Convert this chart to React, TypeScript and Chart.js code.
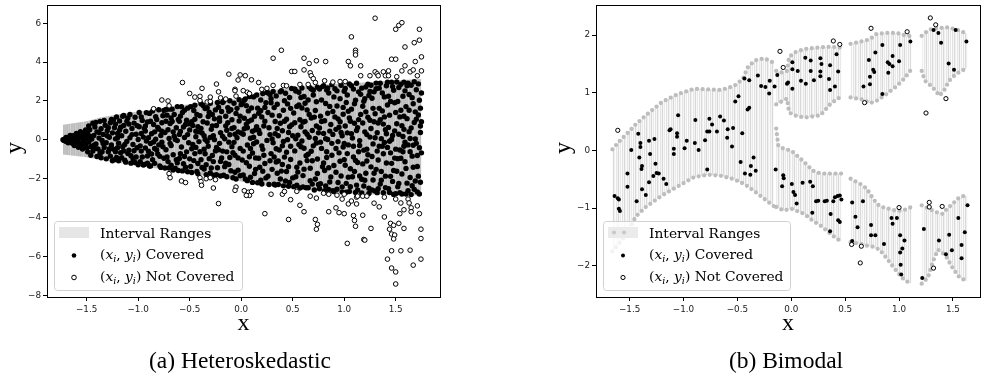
import React, { useEffect, useRef } from 'react';
import { Chart, registerables } from 'chart.js';

Chart.register(...registerables);

// ================= (a) Heteroskedastic =================
const heteroXTicks = [-1.5, -1.0, -0.5, 0.0, 0.5, 1.0, 1.5];
const heteroYTicks = [-8, -6, -4, -2, 0, 2, 4, 6];

const heteroBandX = [-1.73, -1.5, -1.37, -1.17, -0.95, -0.78, -0.49, -0.23, 0.0, 0.1, 0.21, 0.54, 0.86, 1.19, 1.51, 1.75];
const heteroBandHi = [0.78, 0.95, 1.15, 1.33, 1.5, 1.62, 1.85, 2.0, 2.12, 2.35, 2.5, 2.72, 2.86, 2.95, 3.07, 3.13];
const heteroBandLo = [-0.75, -0.9, -1.03, -1.2, -1.38, -1.5, -1.75, -1.92, -2.15, -2.25, -2.35, -2.52, -2.7, -2.8, -2.84, -2.87];

const heteroCovered: number[][] = [
  [-1.73,0.01],[-1.72,-0.03],[-1.71,0.05],[-1.70,-0.08],[-1.69,0.10],[-1.68,-0.02],[-1.67,0.14],[-1.66,-0.12],[-1.65,0.06],[-1.64,-0.18],[-1.63,0.21],[-1.62,-0.07],[-1.61,0.16],[-1.60,-0.25],[-1.59,0.02],[-1.58,0.29],[-1.57,-0.15],[-1.56,0.11],[-1.55,-0.33],[-1.54,0.24],[-1.53,-0.05],[-1.52,0.37],[-1.51,-0.22],[-1.50,0.08],[-1.50,-0.41],
  [-1.49,0.31],[-1.48,-0.12],[-1.47,0.52],[-1.46,-0.35],[-1.45,0.04],[-1.44,-0.58],[-1.43,0.22],[-1.42,0.66],[-1.41,-0.21],[-1.40,0.41],[-1.39,-0.47],[-1.38,0.09],[-1.37,-0.70],[-1.36,0.57],[-1.35,-0.03],[-1.34,0.28],[-1.33,-0.39],[-1.32,0.75],[-1.31,-0.15],[-1.30,0.47],[-1.29,-0.62],[-1.28,0.13],[-1.27,-0.84],[-1.27,0.88],[-1.26,-0.27],[-1.25,0.36],[-1.46,0.18],[-1.36,-0.92],
  [-1.24,-0.48],[-1.23,0.62],[-1.22,0.05],[-1.21,-0.91],[-1.20,0.33],[-1.19,-0.17],[-1.18,0.97],[-1.17,-0.66],[-1.16,0.21],[-1.15,-0.35],[-1.14,0.74],[-1.13,-1.05],[-1.12,0.44],[-1.11,-0.08],[-1.10,1.12],[-1.09,-0.53],[-1.08,0.11],[-1.07,-0.82],[-1.06,0.58],[-1.05,-0.24],[-1.04,0.86],[-1.03,-1.17],[-1.02,0.29],[-1.01,-0.41],[-1.00,0.02],[-1.22,-0.62],[-1.15,1.21],[-1.09,0.81],[-1.05,-0.98],[-1.18,0.49],
  [-0.99,0.67],[-0.98,-0.31],[-0.97,1.18],[-0.96,-0.88],[-0.95,0.14],[-0.94,-1.27],[-0.93,0.45],[-0.92,-0.06],[-0.91,0.92],[-0.90,-0.59],[-0.89,1.36],[-0.88,-0.19],[-0.87,0.31],[-0.86,-1.02],[-0.85,0.79],[-0.84,-0.44],[-0.83,0.03],[-0.82,1.05],[-0.81,-0.73],[-0.80,0.55],[-0.79,-1.34],[-0.78,0.22],[-0.77,-0.12],[-0.76,1.24],[-0.75,-0.95],[-0.97,-0.58],[-0.93,0.71],[-0.88,-1.35],[-0.84,0.41],[-0.80,-0.26],[-0.77,0.88],[-0.91,-0.83],
  [-0.74,0.38],[-0.73,-0.51],[-0.72,1.27],[-0.71,-1.12],[-0.70,0.07],[-0.69,0.84],[-0.68,-0.29],[-0.67,1.58],[-0.66,-0.77],[-0.65,0.19],[-0.64,-1.46],[-0.63,0.62],[-0.62,-0.04],[-0.61,1.05],[-0.60,-0.96],[-0.59,0.43],[-0.58,-0.37],[-0.57,1.41],[-0.56,-1.23],[-0.55,0.12],[-0.54,0.79],[-0.53,-0.62],[-0.52,1.63],[-0.51,-0.15],[-0.50,0.51],[-0.73,0.96],[-0.70,-1.45],[-0.66,0.41],[-0.62,-1.18],[-0.59,1.22],[-0.55,-0.86],[-0.52,0.27],[-0.68,1.12],[-0.60,0.95],
  [-0.49,-1.37],[-0.48,0.93],[-0.47,-0.24],[-0.46,1.51],[-0.45,-0.71],[-0.44,0.16],[-0.43,-1.63],[-0.42,0.68],[-0.41,-0.09],[-0.40,1.24],[-0.39,-1.02],[-0.38,0.35],[-0.37,1.77],[-0.36,-0.48],[-0.35,0.02],[-0.34,-1.28],[-0.33,0.87],[-0.32,-0.33],[-0.31,1.42],[-0.30,-1.71],[-0.29,0.54],[-0.28,-0.81],[-0.27,0.21],[-0.26,1.08],[-0.25,-0.57],[-0.48,-0.46],[-0.45,1.06],[-0.42,-1.22],[-0.39,0.59],[-0.36,-1.5],[-0.33,1.65],[-0.30,0.12],[-0.27,-1.12],[-0.44,0.44],[-0.35,-0.72],[-0.28,1.31],
  [-0.24,0.74],[-0.23,-1.44],[-0.22,1.68],[-0.21,-0.18],[-0.20,0.37],[-0.19,-0.93],[-0.18,1.92],[-0.17,-1.82],[-0.16,0.05],[-0.15,1.21],[-0.14,-0.62],[-0.13,0.88],[-0.12,-1.27],[-0.11,0.26],[-0.10,1.55],[-0.09,-0.35],[-0.08,-1.95],[-0.07,0.63],[-0.06,-0.79],[-0.05,1.36],[-0.04,0.11],[-0.03,-1.56],[-0.02,0.97],[-0.01,-0.44],[0.00,1.81],[-0.24,-0.39],[-0.21,1.13],[-0.18,-0.58],[-0.15,-1.2],[-0.12,1.47],[-0.09,0.58],[-0.06,-1.67],[-0.03,0.41],[-0.20,-1.11],[-0.14,0.49],[-0.07,-0.13],[-0.01,1.22],[-0.11,-0.91],
  [0.01,-1.04],[0.02,0.29],[0.03,2.04],[0.04,-2.01],[0.05,0.81],[0.06,-0.27],[0.07,1.49],[0.08,-1.36],[0.09,0.08],[0.10,1.02],[0.11,-0.68],[0.12,2.21],[0.13,-1.73],[0.14,0.52],[0.15,-0.11],[0.16,1.63],[0.17,-0.95],[0.18,0.33],[0.19,-2.08],[0.20,1.18],[0.21,-0.49],[0.22,0.71],[0.23,-1.22],[0.24,1.91],[0.25,-0.03],[0.02,-0.58],[0.05,1.76],[0.08,-0.87],[0.11,0.44],[0.14,-1.52],[0.17,1.37],[0.20,-0.31],[0.23,0.96],[0.03,1.11],[0.09,-1.93],[0.15,0.68],[0.21,-1.62],[0.12,-0.2],[0.06,0.62],[0.19,2.05],
  [0.26,-1.87],[0.27,0.62],[0.28,2.33],[0.29,-0.71],[0.30,1.27],[0.31,-0.15],[0.32,-2.29],[0.33,0.94],[0.34,-1.14],[0.35,1.83],[0.36,0.21],[0.37,-0.52],[0.38,2.47],[0.39,-1.61],[0.40,0.47],[0.41,1.52],[0.42,-0.89],[0.43,-2.12],[0.44,1.06],[0.45,0.01],[0.46,-1.38],[0.47,2.18],[0.48,-0.33],[0.49,0.77],[0.50,-1.96],[0.26,1.41],[0.28,-1.08],[0.30,0.05],[0.32,1.66],[0.34,-0.46],[0.36,-2.3],[0.38,0.85],[0.40,-1.27],[0.42,2.01],[0.44,-0.64],[0.46,0.38],[0.48,1.62],[0.29,2.12],[0.35,-1.72],[0.41,-0.08],[0.47,-2.2],[0.33,0.31],
  [0.51,1.38],[0.52,-0.57],[0.53,2.51],[0.54,-2.34],[0.55,0.24],[0.56,1.79],[0.57,-1.19],[0.58,0.67],[0.59,-0.06],[0.60,-1.84],[0.61,2.23],[0.62,0.95],[0.63,-0.82],[0.64,1.54],[0.65,-2.47],[0.66,0.13],[0.67,-1.46],[0.68,2.62],[0.69,0.48],[0.70,-0.31],[0.71,1.17],[0.72,-2.02],[0.73,1.96],[0.74,-0.99],[0.75,0.36],[0.52,0.88],[0.54,-1.41],[0.56,-0.24],[0.58,2.18],[0.60,-2.42],[0.62,0.41],[0.64,-1.07],[0.66,1.31],[0.68,-0.59],[0.70,2.31],[0.72,0.07],[0.74,-1.73],[0.53,-1.9],[0.57,1.03],[0.61,-0.43],[0.65,2.05],[0.69,-2.28],[0.73,0.71],[0.59,1.64],
  [0.76,-2.52],[0.77,1.22],[0.78,-0.44],[0.79,2.74],[0.80,0.33],[0.81,-1.58],[0.82,1.87],[0.83,-0.91],[0.84,0.02],[0.85,2.41],[0.86,-2.17],[0.87,0.79],[0.88,-0.18],[0.89,1.46],[0.90,-1.32],[0.91,2.63],[0.92,0.54],[0.93,-2.54],[0.94,1.08],[0.95,-0.67],[0.96,2.12],[0.97,-1.86],[0.98,0.21],[0.99,1.67],[1.00,-1.02],[0.76,0.61],[0.78,2.05],[0.80,-1.19],[0.82,-2.38],[0.84,1.37],[0.86,0.45],[0.88,-0.79],[0.90,2.21],[0.92,-1.67],[0.94,-0.09],[0.96,0.93],[0.98,-2.42],[1.00,2.5],[0.77,-0.12],[0.81,0.98],[0.85,-1.44],[0.89,-2.62],[0.93,1.74],[0.97,0.38],[0.99,-0.37],[0.83,2.56],
  [1.01,0.71],[1.02,-2.24],[1.03,2.31],[1.04,-0.26],[1.05,1.13],[1.06,-1.49],[1.07,2.79],[1.08,0.09],[1.09,-0.88],[1.10,1.86],[1.11,-2.71],[1.12,0.48],[1.13,-1.17],[1.14,2.47],[1.15,-0.04],[1.16,1.31],[1.17,-2.03],[1.18,0.87],[1.19,-0.53],[1.20,2.12],[1.21,-1.72],[1.22,0.27],[1.23,2.86],[1.24,-2.49],[1.25,1.01],[1.01,-1.31],[1.03,0.36],[1.05,-2.66],[1.07,1.58],[1.09,-0.33],[1.11,2.04],[1.13,0.63],[1.15,-1.86],[1.17,2.66],[1.19,-2.38],[1.21,1.44],[1.23,-0.77],[1.25,0.14],[1.02,1.92],[1.06,0.96],[1.10,-1.63],[1.14,-0.61],[1.18,1.73],[1.22,-1.09],[1.04,-1.92],[1.12,-2.33],[1.20,0.41],[1.24,2.28],
  [1.26,-1.39],[1.27,2.14],[1.28,-0.21],[1.29,0.93],[1.30,-2.63],[1.31,2.92],[1.32,0.37],[1.33,-1.04],[1.34,1.62],[1.35,-2.28],[1.36,0.06],[1.37,2.41],[1.38,-0.72],[1.39,1.18],[1.40,-1.87],[1.41,2.78],[1.42,-0.39],[1.43,0.64],[1.44,-2.71],[1.45,1.97],[1.46,-1.21],[1.47,0.22],[1.48,2.55],[1.49,-0.94],[1.50,1.41],[1.26,0.58],[1.28,-2.07],[1.30,1.34],[1.32,-0.58],[1.34,2.66],[1.36,-1.63],[1.38,0.81],[1.40,-2.46],[1.42,1.79],[1.44,-0.07],[1.46,2.97],[1.48,-1.58],[1.50,-2.77],[1.27,-0.86],[1.31,-1.52],[1.35,1.03],[1.39,-0.14],[1.43,2.24],[1.47,-2.14],[1.49,0.46],[1.29,2.47],[1.33,-2.52],[1.37,-0.33],[1.41,0.31],[1.45,-0.67],
  [1.51,0.83],[1.52,-2.41],[1.53,2.69],[1.54,-0.52],[1.55,1.52],[1.56,-1.76],[1.57,0.17],[1.58,2.97],[1.59,-1.13],[1.60,-2.79],[1.61,1.09],[1.62,-0.26],[1.63,2.33],[1.64,-1.94],[1.65,0.61],[1.66,-0.84],[1.67,1.86],[1.68,-2.55],[1.69,0.04],[1.70,2.58],[1.71,-1.37],[1.72,1.28],[1.73,-0.41],[1.74,-2.18],[1.75,0.93],[1.51,-1.62],[1.53,0.29],[1.55,-0.95],[1.57,2.24],[1.59,-0.12],[1.61,-2.23],[1.63,0.42],[1.65,2.81],[1.67,-1.41],[1.69,1.44],[1.71,-2.68],[1.73,2.04],[1.75,-0.67],[1.52,1.97],[1.56,0.73],[1.60,1.71],[1.64,-0.61],[1.68,0.89],[1.72,-1.87],[1.74,1.63],[1.54,-2.72],[1.58,-0.33],[1.62,2.92],[1.66,-2.36],[1.70,-0.18],[1.74,0.38],[1.58,1.21],
];

const heteroCoveredMore: number[][] = [
  [-1.70,0.12],[-1.68,-0.15],[-1.66,0.22],[-1.64,0.03],[-1.62,-0.29],[-1.60,0.33],[-1.58,-0.38],[-1.56,0.42],[-1.54,-0.47],[-1.52,0.12],[-1.51,0.51],[-1.55,-0.18],[-1.59,0.19],[-1.63,-0.11],
  [-1.49,-0.62],[-1.48,0.71],[-1.46,-0.79],[-1.44,0.85],[-1.43,-0.28],[-1.41,0.9],[-1.40,-0.86],[-1.38,0.38],[-1.37,0.95],[-1.35,-0.61],[-1.33,1.0],[-1.31,-0.98],[-1.30,0.21],[-1.29,0.62],[-1.28,-0.47],[-1.26,1.05],[-1.25,-1.08],[-1.47,0.02],[-1.42,-0.45],[-1.34,-0.19],
  [-1.24,1.02],[-1.23,-1.02],[-1.22,0.81],[-1.21,1.18],[-1.20,-0.41],[-1.19,-1.08],[-1.17,0.65],[-1.16,-0.92],[-1.14,1.25],[-1.13,-0.24],[-1.12,-1.15],[-1.11,0.96],[-1.10,-0.71],[-1.08,1.3],[-1.07,-1.2],[-1.06,0.27],[-1.04,-0.56],[-1.03,1.16],[-1.02,-0.88],[-1.01,0.73],[-1.00,-1.28],[-1.20,0.11],[-1.14,-0.57],
  [-0.99,1.41],[-0.98,-1.12],[-0.97,0.33],[-0.96,1.0],[-0.95,-1.3],[-0.94,0.58],[-0.93,-0.42],[-0.92,1.4],[-0.91,-1.2],[-0.90,0.11],[-0.89,-1.35],[-0.88,0.96],[-0.87,-0.73],[-0.86,1.48],[-0.85,-0.11],[-0.84,-1.21],[-0.83,1.19],[-0.82,-0.52],[-0.81,0.64],[-0.80,1.55],[-0.79,-0.85],[-0.78,-1.42],[-0.77,0.44],[-0.76,-0.36],[-0.75,1.51],
  [-0.74,-1.45],[-0.73,1.56],[-0.72,-0.88],[-0.71,0.52],[-0.70,1.58],[-0.69,-0.18],[-0.68,-1.31],[-0.67,0.94],[-0.66,-1.55],[-0.65,1.3],[-0.64,0.02],[-0.63,-1.02],[-0.62,1.71],[-0.61,-1.58],[-0.60,0.28],[-0.59,-0.72],[-0.58,1.7],[-0.57,-1.6],[-0.56,0.66],[-0.55,1.52],[-0.54,-1.41],[-0.53,1.01],[-0.52,-1.64],[-0.51,0.83],[-0.50,-0.98],
  [-0.49,1.71],[-0.48,-1.68],[-0.47,0.74],[-0.46,-1.07],[-0.45,1.78],[-0.44,-0.39],[-0.43,1.3],[-0.42,-1.75],[-0.41,0.41],[-0.40,-0.61],[-0.39,1.86],[-0.38,-1.42],[-0.37,0.93],[-0.36,0.21],[-0.35,1.61],[-0.34,-1.79],[-0.33,-0.08],[-0.32,1.2],[-0.31,-0.97],[-0.30,1.88],[-0.29,-1.45],[-0.28,0.72],[-0.27,-1.82],[-0.26,0.01],[-0.25,1.54],
  [-0.24,-1.8],[-0.23,1.92],[-0.22,-0.51],[-0.21,0.96],[-0.20,-1.86],[-0.19,1.46],[-0.18,0.18],[-0.17,1.99],[-0.16,-1.38],[-0.15,0.72],[-0.14,-1.9],[-0.13,1.66],[-0.12,-0.12],[-0.11,2.01],[-0.10,-1.59],[-0.09,1.03],[-0.08,-0.66],[-0.07,1.88],[-0.06,0.29],[-0.05,-2.02],[-0.04,1.62],[-0.03,-0.93],[-0.02,2.06],[-0.01,-1.85],[0.00,0.35],
  [0.01,1.87],[0.02,-1.81],[0.03,0.57],[0.04,2.11],[0.05,-1.18],[0.06,-2.1],[0.07,0.94],[0.08,2.23],[0.09,-0.45],[0.10,1.64],[0.11,-2.19],[0.12,0.13],[0.13,1.21],[0.14,-0.93],[0.15,2.31],[0.16,-2.21],[0.17,0.49],[0.18,-1.41],[0.19,1.5],[0.20,-2.27],[0.21,2.38],[0.22,-0.79],[0.23,1.67],[0.24,-1.96],[0.25,2.44],
  [0.26,2.42],[0.27,-2.3],[0.28,0.27],[0.29,1.91],[0.30,-1.52],[0.31,2.49],[0.32,-0.88],[0.33,-2.33],[0.34,2.26],[0.35,0.58],[0.36,-1.09],[0.37,1.24],[0.38,-2.02],[0.39,2.53],[0.40,-0.31],[0.41,-2.37],[0.42,0.96],[0.43,2.4],[0.44,-1.63],[0.45,1.85],[0.46,-2.39],[0.47,0.67],[0.48,-1.01],[0.49,2.64],[0.50,0.21],
  [0.51,-2.41],[0.52,2.62],[0.53,0.05],[0.54,1.72],[0.55,-1.66],[0.56,2.45],[0.57,-2.48],[0.58,-0.36],[0.59,2.67],[0.60,0.91],[0.61,-1.51],[0.62,1.88],[0.63,-2.47],[0.64,0.29],[0.65,-0.74],[0.66,2.72],[0.67,-2.11],[0.68,1.12],[0.69,-1.08],[0.70,2.55],[0.71,-2.58],[0.72,1.51],[0.73,-0.16],[0.74,2.71],[0.75,-2.3],
  [0.76,2.62],[0.77,-2.26],[0.78,0.94],[0.79,-1.38],[0.80,2.79],[0.81,-2.62],[0.82,0.06],[0.83,-0.61],[0.84,2.67],[0.85,-2.55],[0.86,1.72],[0.87,-1.91],[0.88,2.84],[0.89,0.28],[0.90,-2.66],[0.91,1.18],[0.92,-0.45],[0.93,2.52],[0.94,-2.2],[0.95,0.65],[0.96,-1.1],[0.97,2.81],[0.98,-2.68],[0.99,1.32],[1.00,-0.19],
  [1.01,2.64],[1.02,-2.7],[1.03,-0.71],[1.04,1.47],[1.05,2.88],[1.06,-2.41],[1.07,0.31],[1.08,-1.9],[1.09,2.61],[1.10,0.85],[1.11,-1.06],[1.12,2.91],[1.13,-2.58],[1.14,1.04],[1.15,-0.29],[1.16,2.34],[1.17,-2.73],[1.18,-1.24],[1.19,1.98],[1.20,-2.08],[1.21,2.72],[1.22,-0.48],[1.23,1.16],[1.24,-2.76],[1.25,2.49],
  [1.26,2.81],[1.27,-2.58],[1.28,1.62],[1.29,-1.72],[1.30,0.11],[1.31,2.63],[1.32,-2.72],[1.33,0.87],[1.34,-0.33],[1.35,2.91],[1.36,-2.08],[1.37,1.49],[1.38,-2.72],[1.39,2.21],[1.40,0.52],[1.41,-1.19],[1.42,2.97],[1.43,-2.51],[1.44,1.27],[1.45,-1.88],[1.46,0.02],[1.47,2.74],[1.48,-2.81],[1.49,1.91],[1.50,-0.48],
  [1.51,2.98],[1.52,-0.97],[1.53,-2.25],[1.54,1.18],[1.55,2.86],[1.56,-2.79],[1.57,-0.61],[1.58,0.54],[1.59,2.52],[1.60,-1.47],[1.61,2.78],[1.62,-2.62],[1.63,1.52],[1.64,0.07],[1.65,-2.82],[1.66,2.17],[1.67,-0.28],[1.68,2.99],[1.69,-2.12],[1.70,1.06],[1.71,-0.81],[1.72,2.88],[1.73,-2.79],[1.74,0.71],[1.75,2.41],
];

const heteroNotCovered: number[][] = [
  [-0.85,1.6],[-0.77,2.05],[-0.71,2.0],[-0.70,1.75],[-0.57,2.95],[-0.50,2.39],[-0.45,2.2],[-0.40,2.24],[-0.40,2.02],[-0.38,2.65],[-0.33,1.95],[-0.30,1.98],[-0.30,2.2],[-0.24,2.87],[-0.22,2.47],[-0.20,2.16],[-0.15,2.1],[-0.12,3.38],[-0.06,2.6],[-0.05,2.25],[-0.03,3.08],[-0.01,3.34],[0.04,3.3],[0.10,3.09],[0.17,2.95],[-0.06,2.53],[0.02,2.53],[0.06,2.45],[0.08,2.38],[0.20,2.6],[0.25,2.65],[0.31,4.2],[0.39,4.61],[0.31,2.8],[0.41,2.8],[0.44,2.78],[0.49,3.52],[0.52,3.52],[0.57,2.85],[0.65,2.85],[0.61,4.2],[0.66,3.93],[0.73,4.07],[0.61,3.6],[0.67,3.45],[0.68,3.3],[0.70,3.15],[0.72,2.95],[0.81,3.04],[0.82,4.03],[0.89,2.97],[0.96,3.0],[1.01,3.0],[1.04,4.03],[1.06,3.81],[1.07,5.3],[1.11,4.61],[1.11,4.49],[1.11,4.37],[1.16,3.81],[1.16,3.30],[1.25,3.3],[1.30,3.5],[1.32,3.4],[1.33,3.3],[1.38,3.5],[1.40,3.3],[1.43,3.55],[1.43,3.3],[1.51,3.25],[1.56,3.55],[1.30,6.26],[1.46,4.15],[1.50,4.15],[1.50,5.69],[1.53,5.89],[1.56,6.03],[1.59,3.81],[1.64,3.5],[1.67,3.6],[1.59,4.78],[1.69,4.03],[1.75,4.27],[1.68,5.0],[1.73,5.13],[1.73,5.69],[1.71,3.3],[1.75,3.55],
  [-0.70,-1.74],[-0.69,-1.95],[-0.58,-2.12],[-0.54,-2.2],[-0.40,-1.95],[-0.39,-2.15],[-0.385,-2.34],[-0.34,-2.0],[-0.30,-1.95],[-0.25,-2.05],[-0.27,-2.48],[-0.22,-3.28],[-0.05,-2.43],[0.07,-2.7],[0.08,-2.86],[-0.06,-2.6],[0.03,-2.62],[0.05,-2.86],[0.10,-2.66],[0.23,-3.8],[0.29,-2.8],[0.40,-2.8],[0.42,-2.66],[0.48,-3.08],[0.54,-2.65],[0.46,-4.1],[0.57,-3.37],[0.61,-3.7],[0.67,-2.9],[0.73,-3.0],[0.72,-4.1],[0.74,-4.35],[0.73,-4.6],[0.80,-2.75],[0.85,-2.8],[0.85,-3.7],[0.92,-3.5],[0.95,-3.75],[1.0,-3.8],[0.93,-2.85],[0.98,-3.05],[1.0,-2.8],[1.03,-5.33],[1.04,-3.3],[1.07,-3.15],[1.12,-3.3],[1.09,-3.9],[1.10,-4.15],[1.11,-4.45],[1.12,-2.95],[1.18,-3.88],[1.19,-5.13],[1.20,-5.16],[1.13,-2.9],[1.18,-2.9],[1.22,-2.9],[1.26,-4.56],[1.29,-3.26],[1.34,-3.45],[1.39,-2.95],[1.39,-3.97],[1.45,-4.3],[1.44,-4.6],[1.48,-4.4],[1.46,-4.85],[1.49,-4.9],[1.48,-5.1],[1.42,-6.14],[1.46,-6.6],[1.50,-6.8],[1.50,-7.42],[1.46,-5.71],[1.55,-5.71],[1.50,-3.05],[1.55,-3.25],[1.58,-3.6],[1.54,-3.8],[1.53,-4.3],[1.58,-4.56],[1.64,-5.68],[1.67,-6.45],[1.62,-3.05],[1.63,-3.25],[1.65,-3.5],[1.65,-3.7],[1.71,-3.4],[1.73,-3.8],[1.745,-4.6],[1.745,-5.08],[1.745,-6.14],
];

// ================= (b) Bimodal =================
const bimodalXTicks = [-1.5, -1.0, -0.5, 0.0, 0.5, 1.0, 1.5];
const bimodalYTicks = [-2, -1, 0, 1, 2];

// interval segments: [x, lower, upper]
const bimodalSegA: number[][] = [
  [-1.66,-1.75,0.02],[-1.6,-1.62,0.15],[-1.51,-1.40,0.32],[-1.445,-1.15,0.45],[-1.35,-0.98,0.61],[-1.2,-0.78,0.84],[-1.05,-0.62,0.98],[-0.9,-0.46,1.07],[-0.77,-0.42,1.06],[-0.65,-0.44,1.05],[-0.53,-0.50,1.12],[-0.45,-0.57,1.24],[-0.405,-0.62,1.44],[-0.34,-0.71,1.56],[-0.25,-0.84,1.60],[-0.16,-0.97,1.52],
];
const bimodalSegUpper1: number[][] = [
  [-0.14,0.80,1.38],[-0.08,0.86,1.35],[-0.04,0.90,1.38],[-0.02,0.66,1.62],[0.03,0.61,1.70],[0.12,0.57,1.76],[0.27,0.61,1.79],[0.365,0.81,1.80],[0.43,0.90,1.79],[0.47,0.93,1.78],
];
const bimodalSegLower1: number[][] = [
  [-0.14,-0.98,0.38],[-0.12,-1.0,0.08],[-0.07,-1.04,0.03],[0.0,-1.01,0.0],[0.12,-1.10,-0.20],[0.2,-1.22,-0.35],[0.27,-1.30,-0.40],[0.40,-1.50,-0.40],[0.47,-1.59,-0.40],
];
const bimodalSegUpper2: number[][] = [
  [0.55,0.92,1.85],[0.67,0.88,1.90],[0.73,0.82,1.93],[0.79,0.86,2.02],[0.885,0.98,2.04],[0.98,1.12,2.04],[1.05,1.25,2.0],[1.115,1.41,1.98],
];
const bimodalSegLower2: number[][] = [
  [0.55,-1.59,-0.49],[0.64,-1.62,-0.58],[0.70,-1.65,-0.66],[0.76,-1.67,-0.84],[0.82,-1.72,-0.97],[0.885,-1.87,-1.0],[0.98,-2.10,-1.05],[1.05,-2.25,-1.03],[1.115,-2.31,-0.98],
];
const bimodalSegUpper3: number[][] = [
  [1.21,1.38,1.99],[1.24,1.21,2.04],[1.31,1.10,2.12],[1.375,0.95,2.12],[1.42,1.05,2.14],[1.465,1.21,2.13],[1.53,1.33,2.10],[1.64,1.44,2.02],
];
const bimodalSegLower3: number[][] = [
  [1.21,-2.31,-0.95],[1.27,-2.2,-1.0],[1.31,-1.95,-1.04],[1.36,-1.72,-1.08],[1.405,-1.78,-1.10],[1.44,-1.85,-1.02],[1.50,-2.05,-0.92],[1.56,-2.2,-0.81],[1.64,-2.28,-0.77],
];

const bimodalCovered: number[][] = [
  [-1.485,0.01],[-1.42,0.29],[-1.40,0.13],[-1.40,0.06],[-1.32,0.17],[-1.27,0.20],[-1.13,0.35],[-1.12,0.37],[-1.06,0.24],[-1.06,0.30],[-1.05,0.61],[-1.09,0.03],[-0.97,0.17],[-0.99,0.04],[-0.895,0.13],[-0.89,0.53],[-0.86,0.01],[-0.80,0.18],[-0.78,0.33],[-0.76,0.33],[-0.76,0.55],[-0.735,0.45],[-0.69,0.33],[-0.66,0.59],[-0.625,0.52],[-0.59,0.37],[-0.54,0.39],[-0.595,0.22],[-0.55,0.07],[-0.455,0.30],[-0.52,0.85],[-0.49,0.94],[-0.405,0.71],[-0.39,0.74],[-0.435,1.25],[-0.39,1.22],[-0.31,1.30],[-0.28,1.12],[-0.24,1.10],[-0.20,1.21],[-0.205,0.99],[-0.155,1.11],[-0.13,1.31],[-0.04,1.16],
  [0.01,1.53],[0.01,1.41],[0.06,1.38],[-0.03,1.18],[0.01,1.07],[0.09,1.21],[0.135,1.16],[0.13,1.61],[0.18,1.56],[0.18,1.38],[0.27,1.60],[0.28,1.50],[0.27,1.37],[0.27,1.29],[0.21,1.22],[0.36,1.48],[0.35,1.24],[0.36,1.05],[0.405,1.11],[0.42,1.67],[0.435,1.37],
  [0.67,1.11],[0.73,1.15],[0.73,1.28],[0.72,1.57],[0.76,1.40],[0.77,1.36],[0.78,1.70],[0.845,1.83],[0.845,0.98],[0.895,1.53],[0.91,1.50],[0.94,1.64],[0.94,1.46],[0.90,1.35],[1.01,1.83],[1.00,1.55],[1.105,1.89],
  [1.32,2.09],[1.365,2.04],[1.39,1.87],[1.525,2.09],[1.625,1.89],[1.46,1.51],[1.51,1.40],
  [-1.31,-0.06],[-1.09,-0.06],[-1.41,-0.12],[-1.385,-0.27],[-1.39,-0.32],[-1.52,-0.40],[-1.52,-0.63],[-1.64,-0.79],[-1.61,-0.83],[-1.60,-0.85],[-1.60,-1.01],[-1.59,-1.05],[-1.435,-0.88],[-1.385,-0.67],[-1.35,-0.77],[-1.32,-0.55],[-1.26,-0.23],[-1.25,-0.39],[-1.28,-0.44],[-1.23,-0.40],[-1.185,-0.49],[-1.16,-0.58],[-0.78,-0.33],[-0.47,-0.20],[-0.43,-0.40],[-0.38,-0.42],[-0.375,-0.27],[-0.35,-0.12],[-0.33,-0.35],[-0.145,-0.33],[-0.075,-0.43],[-0.07,-0.48],[-0.085,-0.62],[0.02,-0.72],
  [0.005,-0.58],[0.035,-0.77],[0.05,-0.92],[0.105,-0.56],[0.175,-0.54],[0.20,-0.62],[0.195,-1.08],[0.23,-0.88],[0.25,-0.87],[0.31,-0.88],[0.33,-0.87],[0.365,-1.10],[0.39,-0.88],[0.405,-0.81],[0.43,-0.79],[0.45,-0.78],[0.465,-0.85],[0.435,-1.21],[0.45,-1.24],[0.36,-1.40],
  [0.565,-0.90],[0.665,-0.88],[0.595,-1.15],[0.615,-1.33],[0.565,-1.57],[0.74,-1.29],[0.74,-1.47],[0.78,-1.47],[0.86,-1.62],[0.93,-1.17],[0.98,-1.17],[0.94,-1.27],[1.01,-1.47],[1.05,-1.56],[1.03,-1.70],[1.01,-1.77],[1.015,-1.98],[1.02,-2.15],
  [1.23,-1.36],[1.215,-2.21],[1.37,-1.56],[1.435,-1.80],[1.465,-1.46],[1.49,-1.73],[1.55,-1.17],[1.58,-1.64],[1.58,-1.87],[1.61,-1.42],[1.635,-0.95],
];

const bimodalNotCovered: number[][] = [
  [-1.61,0.35],[-0.105,1.72],[-0.075,1.44],[0.39,1.90],[0.45,1.84],[0.74,2.12],[0.68,0.83],[1.075,2.06],[1.29,2.30],[1.34,2.18],[1.435,0.90],[1.25,0.65],
  [0.56,-1.63],[0.65,-1.66],[0.64,-1.95],[1.00,-0.99],[1.28,-0.90],[1.28,-0.98],[1.40,-0.97],[1.32,-2.04],
];

// ================= helpers =================
const fmt1 = (v: number) => (v < 0 ? '\u2212' : '') + Math.abs(v).toFixed(1);
const fmt0 = (v: number) => (v < 0 ? '\u2212' : '') + Math.abs(v).toFixed(0);
const pts = (arr: number[][]) => arr.map(([x, y]) => ({ x, y }));

function stripePattern(ctx: CanvasRenderingContext2D, cols: string[]) {
  const c = document.createElement('canvas');
  c.width = cols.length;
  c.height = 4;
  const g = c.getContext('2d')!;
  cols.forEach((col, i) => {
    g.fillStyle = col;
    g.fillRect(i, 0, 1, 4);
  });
  return ctx.createPattern(c, 'repeat');
}

function roundRectPath(ctx: CanvasRenderingContext2D, x: number, y: number, w: number, h: number, r: number) {
  ctx.beginPath();
  ctx.moveTo(x + r, y);
  ctx.lineTo(x + w - r, y);
  ctx.arcTo(x + w, y, x + w, y + r, r);
  ctx.lineTo(x + w, y + h - r);
  ctx.arcTo(x + w, y + h, x + w - r, y + h, r);
  ctx.lineTo(x + r, y + h);
  ctx.arcTo(x, y + h, x, y + h - r, r);
  ctx.lineTo(x, y + r);
  ctx.arcTo(x, y, x + r, y, r);
  ctx.closePath();
}

const LEGEND_FS = 13.8;

function drawMathLabel(ctx: CanvasRenderingContext2D, x: number, baseline: number, label: string) {
  const fs = LEGEND_FS;
  const normal = `${fs}px "DejaVu Serif"`;
  const ital = `italic ${fs}px "DejaVu Serif"`;
  const sub = `italic ${fs * 0.7}px "DejaVu Serif"`;
  const parts: [string, string, number][] = [
    ['(', normal, 0], ['x', ital, 0], ['i', sub, 3], [', ', normal, 0], ['y', ital, 0], ['i', sub, 3], [')', normal, 0], [' ' + label, normal, 0],
  ];
  let cx = x;
  for (const [t, f, dy] of parts) {
    ctx.font = f;
    ctx.fillText(t, cx, baseline + dy);
    cx += ctx.measureText(t).width;
  }
}

const decorPlugin = {
  id: 'decor',
  afterDraw(chart: any, _args: any, o: any) {
    const { ctx, chartArea: a } = chart;
    ctx.save();
    // frame
    ctx.strokeStyle = '#000';
    ctx.lineWidth = 1;
    ctx.strokeRect(Math.round(a.left) + 0.5, Math.round(a.top) + 0.5, Math.round(a.right - a.left), Math.round(a.bottom - a.top));
    // axis titles
    ctx.fillStyle = '#000';
    ctx.textAlign = 'center';
    ctx.textBaseline = 'alphabetic';
    ctx.font = `${o.axisFont}px "Liberation Serif"`;
    ctx.fillText('x', (a.left + a.right) / 2, o.xTitleBaseline);
    ctx.save();
    ctx.translate(o.yTitleX, o.yTitleY);
    ctx.rotate(-Math.PI / 2);
    ctx.fillText('y', 0, 0);
    ctx.restore();
    // caption
    ctx.font = `${o.captionFont}px "Liberation Serif"`;
    ctx.fillText(o.caption, o.captionX, o.captionBaseline);
    // legend
    const lx = o.lx, ly = o.ly, lw = o.lw, lh = o.lh;
    roundRectPath(ctx, lx + 0.5, ly + 0.5, lw, lh, 3);
    ctx.fillStyle = 'rgba(255,255,255,0.8)';
    ctx.fill();
    ctx.strokeStyle = '#d2d2d2';
    ctx.lineWidth = 1;
    ctx.stroke();
    // interval patch
    ctx.fillStyle = o.patchColor;
    ctx.fillRect(lx + 5, ly + 6, 30, 11);
    if (o.patchDots) {
      ctx.fillStyle = '#c9c9c9';
      for (const dx of [11, 21]) {
        ctx.beginPath();
        ctx.arc(lx + dx, ly + 11.5, 2.1, 0, Math.PI * 2);
        ctx.fill();
      }
    }
    // markers
    ctx.fillStyle = '#000';
    ctx.beginPath();
    ctx.arc(lx + 20, ly + 34.5, o.dotR, 0, Math.PI * 2);
    ctx.fill();
    ctx.beginPath();
    ctx.arc(lx + 20, ly + 56.5, o.ringR, 0, Math.PI * 2);
    ctx.fillStyle = '#fff';
    ctx.fill();
    ctx.strokeStyle = '#000';
    ctx.lineWidth = 1;
    ctx.stroke();
    // texts
    ctx.fillStyle = '#000';
    ctx.textAlign = 'left';
    ctx.font = `${LEGEND_FS}px "DejaVu Serif"`;
    ctx.fillText('Interval Ranges', lx + 46, ly + 16.5);
    drawMathLabel(ctx, lx + 46, ly + 37.5, 'Covered');
    drawMathLabel(ctx, lx + 46, ly + 59.5, 'Not Covered');
    ctx.restore();
  },
};

function axes(xMin: number, xMax: number, yMin: number, yMax: number, xTicks: number[], yTicks: number[], yFmt: (v: number) => string, yAxisW: number) {
  const tickFont = { family: '"DejaVu Sans"', size: 8.8 };
  return {
    x: {
      type: 'linear',
      min: xMin,
      max: xMax,
      afterBuildTicks: (s: any) => { s.ticks = xTicks.map((v) => ({ value: v })); },
      afterFit: (s: any) => { s.height = 76; s.paddingLeft = 0; s.paddingRight = 0; },
      ticks: { callback: (v: any) => fmt1(Number(v)), font: tickFont, color: '#222', padding: 3, maxRotation: 0, autoSkip: false },
      grid: { display: true, drawOnChartArea: false, drawTicks: true, tickLength: 4, color: '#000', lineWidth: 1 },
      border: { display: false },
    },
    y: {
      type: 'linear',
      min: yMin,
      max: yMax,
      afterBuildTicks: (s: any) => { s.ticks = yTicks.map((v) => ({ value: v })); },
      afterFit: (s: any) => { s.width = yAxisW; s.paddingTop = 0; s.paddingBottom = 0; },
      ticks: { callback: (v: any) => yFmt(Number(v)), font: tickFont, color: '#222', padding: 2, autoSkip: false },
      grid: { display: true, drawOnChartArea: false, drawTicks: true, tickLength: 4, color: '#000', lineWidth: 1 },
      border: { display: false },
    },
  };
}

function heteroConfig(ctx: CanvasRenderingContext2D): any {
  const bandPattern = stripePattern(ctx, ['#bebebe', '#c1c1c1', '#bcbcbc', '#c7c7c7', '#bfbfbf', '#d2d2d2', '#bdbdbd', '#c0c0c0', '#c4c4c4', '#bbbbbb', '#cdcdcd', '#bfbfbf', '#c2c2c2']);
  const covered = { showLine: false, pointRadius: 2.7, pointBackgroundColor: '#000', pointBorderColor: '#000', pointBorderWidth: 0, order: 1 };
  return {
    type: 'line',
    data: {
      datasets: [
        { data: pts(heteroNotCovered), showLine: false, pointRadius: 2.3, pointBackgroundColor: '#fff', pointBorderColor: '#000', pointBorderWidth: 1, order: 0 },
        { ...covered, data: pts(heteroCovered) },
        { ...covered, data: pts(heteroCoveredMore) },
        { data: heteroBandX.map((x, i) => ({ x, y: heteroBandLo[i] })), borderColor: 'rgba(0,0,0,0)', borderWidth: 1, pointRadius: 0, fill: false, order: 10 },
        { data: heteroBandX.map((x, i) => ({ x, y: heteroBandHi[i] })), borderColor: 'rgba(0,0,0,0)', borderWidth: 1, pointRadius: 0, fill: '-1', backgroundColor: bandPattern, order: 10 },
      ],
    },
    options: {
      responsive: false,
      animation: false,
      devicePixelRatio: 1,
      events: [],
      layout: { padding: { left: 0, right: 50, top: 4, bottom: 0 } },
      scales: axes(-1.885, 1.93, -8.09, 6.94, heteroXTicks, heteroYTicks, fmt0, 47),
      plugins: {
        legend: { display: false },
        tooltip: { enabled: false },
        decor: {
          axisFont: 24, xTitleBaseline: 330, yTitleX: 21, yTitleY: 148,
          caption: '(a) Heteroskedastic', captionFont: 23.5, captionX: 240, captionBaseline: 368,
          lx: 54, ly: 221, lw: 188, lh: 69, patchColor: '#e6e6e6', patchDots: false, dotR: 2.3, ringR: 2.3,
        },
      },
    },
    plugins: [decorPlugin],
  };
}

function bimodalConfig(ctx: CanvasRenderingContext2D): any {
  const bandPattern = stripePattern(ctx, ['#e2e2e2', '#f7f7f7', '#dadada', '#f0f0f0', '#fbfbfb', '#e6e6e6', '#f4f4f4', '#d8d8d8', '#f8f8f8', '#e9e9e9', '#fcfcfc']);
  const segs = [bimodalSegA, bimodalSegUpper1, bimodalSegLower1, bimodalSegUpper2, bimodalSegLower2, bimodalSegUpper3, bimodalSegLower3];
  const edge = { borderColor: '#bdbdbd', borderWidth: 4.3, borderDash: [0, 5.6], borderCapStyle: 'round', pointRadius: 0, order: 10 };
  const bandSets: any[] = [];
  segs.forEach((seg) => {
    bandSets.push({ ...edge, data: seg.map(([x, lo]) => ({ x, y: lo })), fill: false });
    bandSets.push({ ...edge, data: seg.map(([x, , hi]) => ({ x, y: hi })), fill: '-1', backgroundColor: bandPattern });
  });
  return {
    type: 'line',
    data: {
      datasets: [
        { data: pts(bimodalNotCovered), showLine: false, pointRadius: 2.1, pointBackgroundColor: '#fff', pointBorderColor: '#000', pointBorderWidth: 1, order: 0 },
        { data: pts(bimodalCovered), showLine: false, pointRadius: 2.0, pointBackgroundColor: '#000', pointBorderColor: '#000', pointBorderWidth: 0, order: 1 },
        ...bandSets,
      ],
    },
    options: {
      responsive: false,
      animation: false,
      devicePixelRatio: 1,
      events: [],
      layout: { padding: { left: 0, right: 1, top: 4, bottom: 0 } },
      scales: axes(-1.812, 1.751, -2.541, 2.524, bimodalXTicks, bimodalYTicks, fmt0, 51),
      plugins: {
        legend: { display: false },
        tooltip: { enabled: false },
        decor: {
          axisFont: 24, xTitleBaseline: 330, yTitleX: 25, yTitleY: 148,
          caption: '(b) Bimodal', captionFont: 23.5, captionX: 241, captionBaseline: 368,
          lx: 58, ly: 221, lw: 187, lh: 69, patchColor: '#ebebeb', patchDots: true, dotR: 2.0, ringR: 2.1,
        },
      },
    },
    plugins: [decorPlugin],
  };
}

function ChartCanvas({ make, left, width }: { make: (ctx: CanvasRenderingContext2D) => any; left: number; width: number }) {
  const ref = useRef<HTMLCanvasElement>(null);
  useEffect(() => {
    const canvas = ref.current!;
    const ctx = canvas.getContext('2d')!;
    const chart = new Chart(ctx, make(ctx));
    return () => chart.destroy();
  }, []);
  return <canvas ref={ref} width={width} height={373} style={{ position: 'absolute', left, top: 0, width, height: 373 }} />;
}

export default function App() {
  return (
    <div style={{ position: 'absolute', left: 0, top: 0, width: 985, height: 373, background: '#fff', overflow: 'hidden' }}>
      <ChartCanvas make={heteroConfig} left={0} width={490} />
      <ChartCanvas make={bimodalConfig} left={545} width={440} />
    </div>
  );
}
